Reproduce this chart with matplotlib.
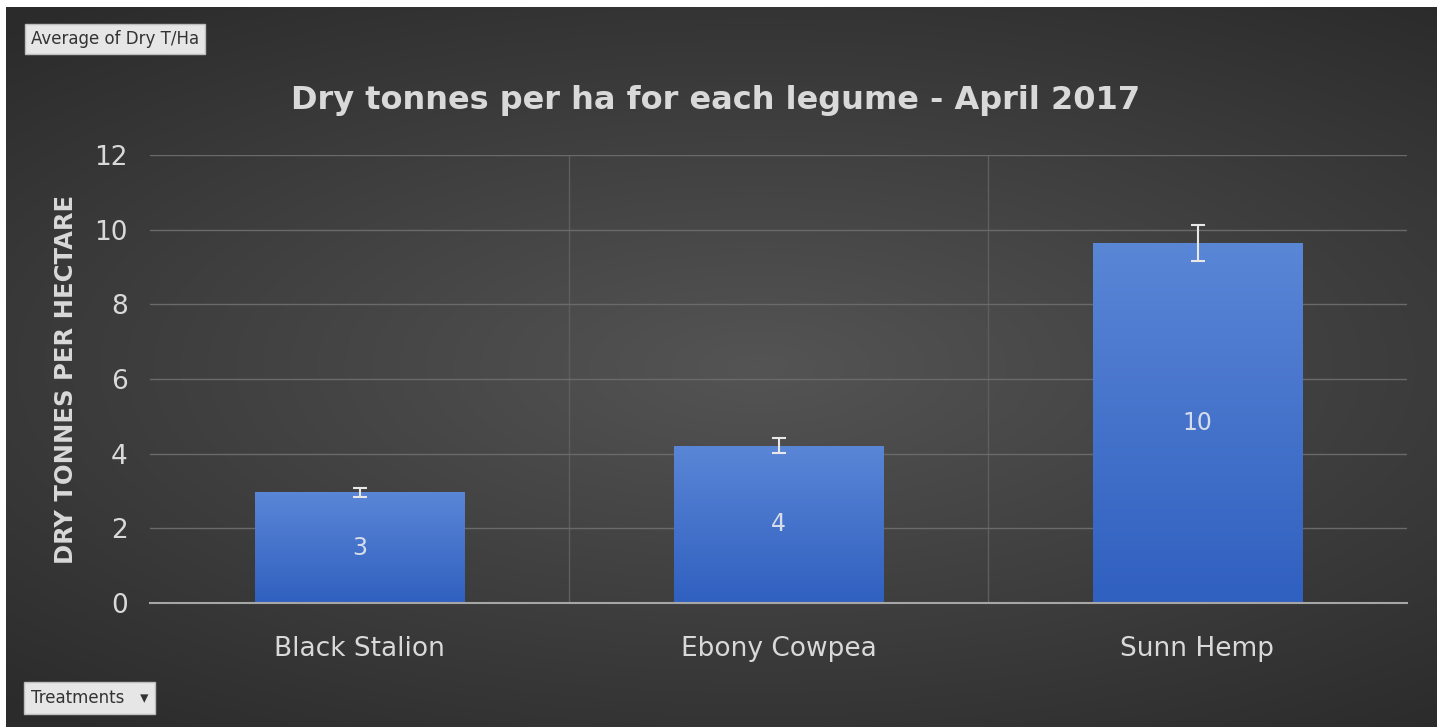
import numpy as np
import matplotlib.pyplot as plt

# data
treatments = ['Black Stalion', 'Ebony Cowpea', 'Sunn Hemp']
dry_t_ha = [2.96, 4.21, 9.64]
std_err = [0.12, 0.2, 0.48]
bar_labels = ['3', '4', '10']
y_ticks = [0, 2, 4, 6, 8, 10, 12]

W, H = 1437, 727
fig = plt.figure(figsize=(W / 100, H / 100), dpi=100)
fig.patch.set_facecolor('white')

# dark radial background
bg = fig.add_axes([6 / W, 0, 1 - 6 / W, 1 - 7 / H])
yy, xx = np.mgrid[-1:1:300j, -1:1:600j]
r = np.sqrt(((xx - 0.05) * 0.9) ** 2 + (yy * 1.1) ** 2)
shade = 0.33 - 0.16 * np.clip(r, 0, 1.4) / 1.4
bg.imshow(np.dstack([shade, shade, shade]), aspect='auto', extent=[0, 1, 0, 1],
          interpolation='bilinear')
bg.set_axis_off()

# plot area
ax = fig.add_axes([150 / W, 1 - 603 / H, (1407 - 150) / W, (603 - 155) / H])
ax.patch.set_alpha(0)
x = np.arange(len(treatments))
bars = ax.bar(x, dry_t_ha, width=0.5, color='#4472c4', zorder=2)

# gradient fill for each bar
grad = np.linspace(0, 1, 100).reshape(-1, 1)
top_c = np.array([0x5a, 0x86, 0xd6]) / 255
bot_c = np.array([0x30, 0x60, 0xc0]) / 255
img = top_c * (1 - grad[..., None]) + bot_c * grad[..., None]
for b in bars:
    bx, bw, bh = b.get_x(), b.get_width(), b.get_height()
    im = ax.imshow(img, aspect='auto', extent=[bx, bx + bw, 0, bh], zorder=2.5,
                   interpolation='bilinear')
    im.set_clip_path(b)

ax.errorbar(x, dry_t_ha, yerr=std_err, fmt='none', ecolor='#e8e8e8',
            elinewidth=1.5, capsize=5, capthick=1.5, zorder=3)

for xi, v, lab in zip(x, dry_t_ha, bar_labels):
    ax.text(xi, v / 2, lab, ha='center', va='center', color='#d6dcea',
            fontsize=17, zorder=4)

ax.set_xlim(-0.5, len(treatments) - 0.5)
ax.set_ylim(0, 12)
ax.set_yticks(y_ticks)
ax.set_xticks(x)
ax.set_xticklabels(treatments)
ax.tick_params(axis='both', length=0, colors='#d9d9d9', labelsize=19)
ax.tick_params(axis='x', pad=24)
ax.tick_params(axis='y', pad=16)

# gridlines
ax.grid(axis='y', color='#6a6a6a', linewidth=1, zorder=0)
for xb in [0.5, 1.5]:
    ax.axvline(xb, color='#5e5e5e', linewidth=1, zorder=0)
for s in ['top', 'right', 'left']:
    ax.spines[s].set_visible(False)
ax.spines['bottom'].set_color('#a6a6a6')
ax.spines['bottom'].set_linewidth(1.5)

ax.set_ylabel('DRY TONNES PER HECTARE', color='#d9d9d9', fontsize=17.5,
              fontweight='bold', labelpad=12)

fig.text(716 / W, 1 - 100 / H, 'Dry tonnes per ha for each legume - April 2017',
         ha='center', va='center', color='#d9d9d9', fontsize=23,
         fontweight='bold')

# pivot field buttons
fig.text(31 / W, 1 - 39 / H, 'Average of Dry T/Ha', ha='left', va='center',
         fontsize=12, color='#333333', family='Liberation Sans Narrow',
         bbox=dict(boxstyle='square,pad=0.35', fc='#e6e6e6', ec='#bdbdbd'))
fig.text(31 / W, 1 - 698 / H, 'Treatments   \u25be', ha='left', va='center',
         fontsize=12, color='#333333', family='Liberation Sans Narrow',
         bbox=dict(boxstyle='square,pad=0.4', fc='#e6e6e6', ec='#bdbdbd'))

fig.savefig('out.png', dpi=100)
